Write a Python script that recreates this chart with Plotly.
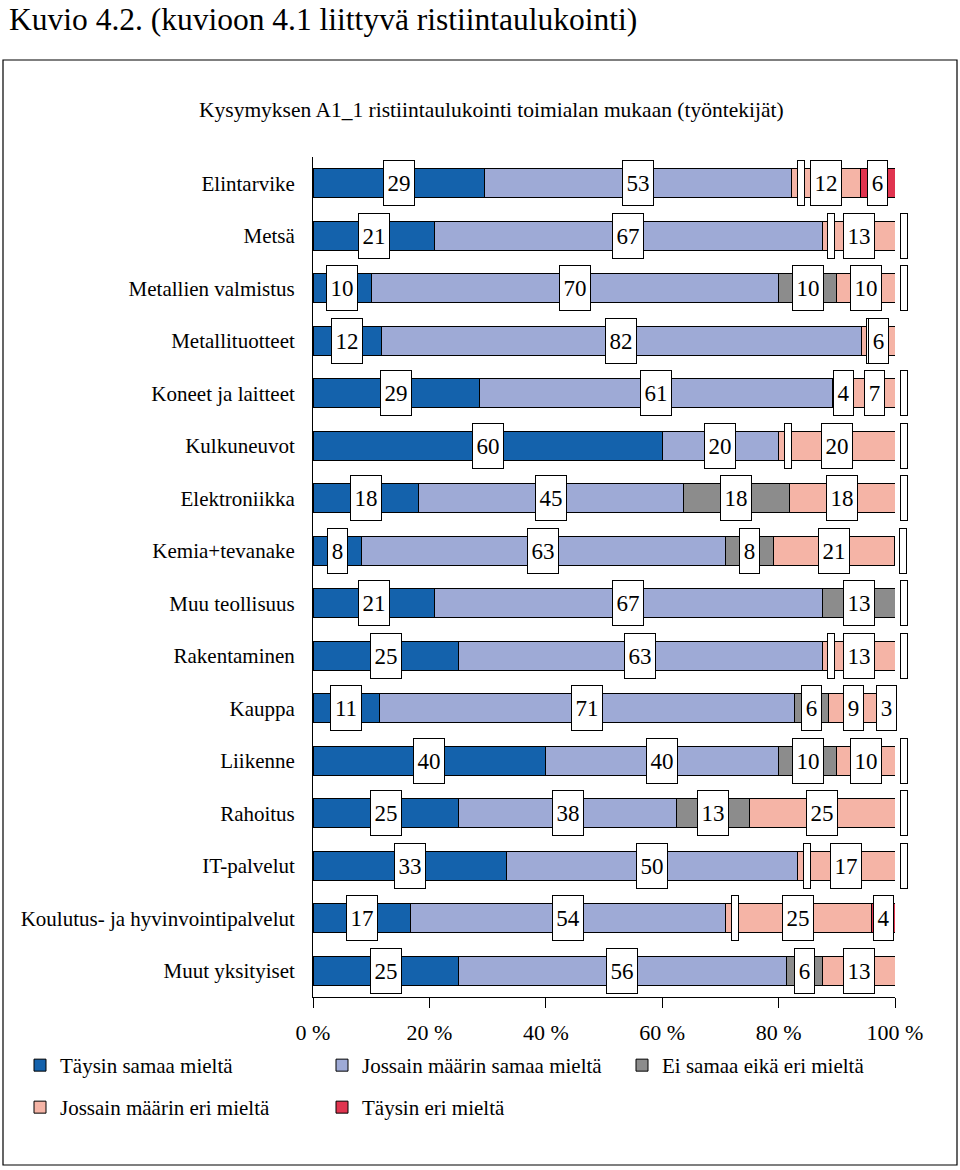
import plotly.graph_objects as go

categories = ["Elintarvike", "Metsä", "Metallien valmistus", "Metallituotteet",
              "Koneet ja laitteet", "Kulkuneuvot", "Elektroniikka", "Kemia+tevanake",
              "Muu teollisuus", "Rakentaminen", "Kauppa", "Liikenne", "Rahoitus",
              "IT-palvelut", "Koulutus- ja hyvinvointipalvelut", "Muut yksityiset"]

taysin_samaa = [29.4, 20.8, 10, 11.8, 28.6, 60, 18.2, 8.3, 20.8, 25, 11.4, 40, 25, 33.3, 16.7, 25]
jossain_samaa = [52.9, 66.7, 70, 82.4, 60.7, 20, 45.4, 62.5, 66.7, 62.5, 71.4, 40, 37.5, 50, 54.2, 56.3]
ei_samaa_eri = [0, 0, 10, 0, 3.6, 0, 18.2, 8.3, 12.5, 0, 5.7, 10, 12.5, 0, 0, 6.3]
jossain_eri = [11.8, 12.5, 10, 5.9, 7.1, 20, 18.2, 20.8, 0, 12.5, 8.6, 10, 25, 16.7, 25, 12.5]
taysin_eri = [5.9, 0, 0, 0, 0, 0, 0, 0, 0, 0, 2.9, 0, 0, 0, 4.2, 0]

series_names = ["Täysin samaa mieltä", "Jossain määrin samaa mieltä", "Ei samaa eikä eri mieltä",
                "Jossain määrin eri mieltä", "Täysin eri mieltä"]
series_colors = ["#1462AC", "#9EAAD6", "#8C8C8C", "#F5B4A6", "#E0344F"]
tick_values = [0, 20, 40, 60, 80, 100]
tick_labels = ["0 %", "20 %", "40 %", "60 %", "80 %", "100 %"]

series = [taysin_samaa, jossain_samaa, ei_samaa_eri, jossain_eri, taysin_eri]

W, H = 960, 1170
L, R, T, B = 313, 65, 157, 173
pw, ph = W - L - R, H - T - B

def px_x(p):
    return (p - L) / pw

def px_y(p):
    return (H - B - p) / ph

FONT = "Liberation Serif"

legend_ids = ["legend", "legend2", "legend3", "legend4", "legend5"]
legend_pos = [(20, 1045), (322, 1045), (622, 1045), (20, 1087), (322, 1087)]

fig = go.Figure()
for k, (name, vals, col) in enumerate(zip(series_names, series, series_colors)):
    fig.add_trace(go.Bar(
        y=categories, x=vals, name=name, orientation="h",
        marker=dict(color=col, line=dict(color="black", width=1)),
        hoverinfo="x+y+name",
        legend=legend_ids[k],
    ))

annotations = []
for i, cat in enumerate(categories):
    cum = 0
    for vals in series:
        v = vals[i]
        if v > 0:
            txt = str(int(v + 0.5))
            w = 30 if len(txt) > 1 else 19
            annotations.append(dict(
                x=cum + v / 2, y=cat, xref="x", yref="y", text=txt, showarrow=False,
                font=dict(family=FONT, size=23, color="black"),
                bgcolor="white", bordercolor="black", borderwidth=1, borderpad=0,
                width=w, height=44, align="center", valign="middle"))
        else:
            annotations.append(dict(
                x=cum, y=cat, xref="x", yref="y", text=" ", showarrow=False, xshift=9,
                font=dict(family=FONT, size=23, color="black"),
                bgcolor="white", bordercolor="black", borderwidth=1, borderpad=0,
                width=6, height=44))
        cum += v

annotations.append(dict(
    x=px_x(7), y=px_y(0), xref="paper", yref="paper", xanchor="left", yanchor="top",
    text="Kuvio 4.2. (kuvioon 4.1 liittyvä ristiintaulukointi)", showarrow=False,
    font=dict(family=FONT, size=31.5, color="black")))
annotations.append(dict(
    x=px_x(491), y=px_y(110), xref="paper", yref="paper", xanchor="center", yanchor="middle",
    text="Kysymyksen A1_1 ristiintaulukointi toimialan mukaan (työntekijät)", showarrow=False,
    font=dict(family=FONT, size=21.5, color="black")))

shapes = [dict(type="rect", xref="paper", yref="paper",
               x0=px_x(3), x1=px_x(957), y0=px_y(60), y1=px_y(1165),
               line=dict(color="black", width=1.2), fillcolor="rgba(0,0,0,0)", layer="below")]

legend_common = dict(orientation="h", xanchor="left", yanchor="top",
                     font=dict(family=FONT, size=21), itemclick=False, itemdoubleclick=False,
                     bgcolor="rgba(0,0,0,0)")
legends = {lid: dict(x=px_x(lx), y=px_y(ly), **legend_common)
           for lid, (lx, ly) in zip(legend_ids, legend_pos)}

fig.update_layout(
    width=W, height=H,
    margin=dict(l=L, r=R, t=T, b=B, autoexpand=False),
    barmode="stack", bargap=0.447,
    plot_bgcolor="white", paper_bgcolor="white",
    font=dict(family=FONT, size=20, color="black"),
    xaxis=dict(range=[0, 100], tickvals=tick_values, ticktext=tick_labels,
               showgrid=False, zeroline=False, showline=True, linecolor="black", linewidth=1,
               ticks="outside", ticklen=10, tickcolor="black", ticklabelstandoff=6,
               tickfont=dict(family=FONT, size=22)),
    yaxis=dict(autorange="reversed", showgrid=False, zeroline=False, showline=True,
               linecolor="black", linewidth=1, ticks="", ticklabelstandoff=13,
               tickfont=dict(family=FONT, size=21)),
    showlegend=True,
    annotations=annotations, shapes=shapes,
    **legends,
)

fig.write_html("out.html", config={"displayModeBar": False},
               post_script="document.body.style.margin='0';")
